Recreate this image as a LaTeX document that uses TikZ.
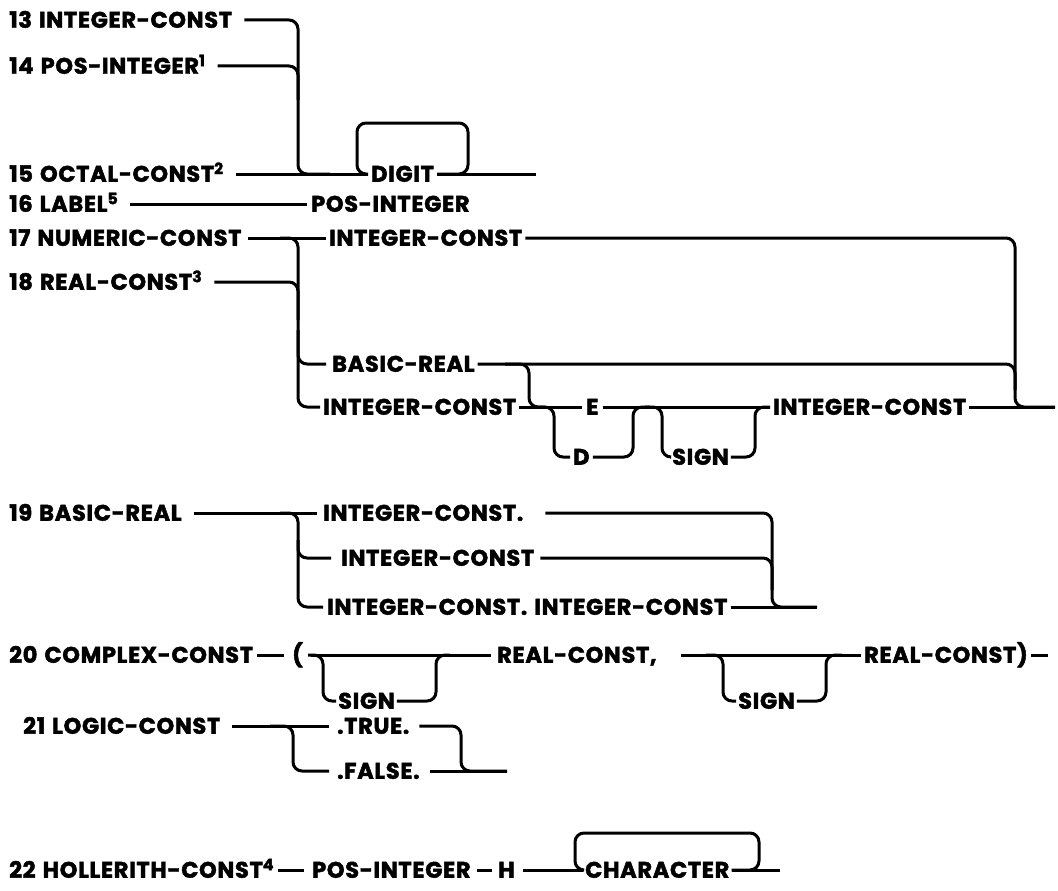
\documentclass[tikz,border=0pt]{standalone}
\usepackage{fontspec}
\setmainfont{Poppins}[LetterSpace=3, WordSpace=1.3, BoldFeatures={FakeBold=2}]
\usetikzlibrary{positioning}

\tikzset{
  lbl/.style={inner sep=0pt, anchor=west, text height=15.5pt, text depth=0pt,
    font=\fontsize{22.5}{26}\selectfont\bfseries},
  wire/.style={line width=3pt, rounded corners=9pt},
}

\begin{document}
\begin{tikzpicture}[x=1pt,y=-1pt]
    \useasboundingbox (0,0) rectangle (1058,891);
    % rules 13 to 15
    \node[lbl] (n13) at (9,20) {13 INTEGER-CONST};
    \node[lbl] (n14) at (9,66) {14 POS-INTEGER\textsuperscript{1}};
    \node[lbl] (n15) at (9,174) {15 OCTAL-CONST\textsuperscript{2}};
    \node[lbl] (digit) at (371,174) {DIGIT};
    \coordinate (e15) at (536,174);
    \draw[wire] ([xshift=12pt]n13.east) -| (298,174) -- (330,174);% bracket
    \draw[wire] ([xshift=12pt]n14.east) -| (298,100);
    \draw[wire] ([xshift=12pt]n15.east) -- ([xshift=-3pt]digit.west);
    \draw[wire] ([xshift=3pt]digit.east) -| (468,123) -| (357,174) -- ([xshift=-3pt]digit.west);% loop over DIGIT
    \draw[wire] ([xshift=3pt]digit.east) -- (e15);
    % rule 16
    \node[lbl] (n16) at (9,204) {16 LABEL\textsuperscript{5}};
    \node[lbl] (pos16) at (311,204) {POS-INTEGER};
    \draw[wire] ([xshift=12pt]n16.east) -- ([xshift=-4pt]pos16.west);
    % rules 17 and 18
    \node[lbl] (n17) at (9,238) {17 NUMERIC-CONST};
    \node[lbl] (ic17) at (329,238) {INTEGER-CONST};
    \node[lbl] (n18) at (9,282) {18 REAL-CONST\textsuperscript{3}};
    \node[lbl] (br17) at (332,364) {BASIC-REAL};
    \node[lbl] (icb17) at (323,407) {INTEGER-CONST};
    \node[lbl] (e17) at (586,407) {E};
    \node[lbl] (d17) at (573,457) {D};
    \node[lbl] (s17) at (672,457) {SIGN};
    \node[lbl] (ice17) at (773,407) {INTEGER-CONST};
    \coordinate (end17) at (1055,407);
    \draw[wire] ([xshift=6pt]n17.east) -- ([xshift=-3pt]ic17.west);
    \draw[wire] (280,238) -- (298,238) |- ([xshift=-3pt]icb17.west);% left bracket
    \draw[wire] ([xshift=12pt]n18.east) -| (298,320);
    \draw[wire] (298,330) |- ([xshift=-6pt]br17.west);
    \draw[wire] ([xshift=3pt]ic17.east) -| (1015,407) -- (end17);% right bracket
    \draw[wire] ([xshift=3pt]br17.east) -| (1015,390);
    \draw[wire] (505,364) -| (529,407) -- (545,407);
    \draw[wire] ([xshift=3pt]icb17.east) -- ([xshift=-4pt]e17.west);
    \draw[wire] (538,407) -| (554,457) -- ([xshift=-3pt]d17.west);
    \draw[wire] ([xshift=3pt]d17.east) -| (633,407) -- (650,407);
    \draw[wire] ([xshift=4pt]e17.east) -- ([xshift=-3pt]ice17.west);
    \draw[wire] (645,407) -| (662,457) -- ([xshift=-2pt]s17.west);% optional sign
    \draw[wire] ([xshift=2pt]s17.east) -| (755,407) -- ([xshift=-3pt]ice17.west);
    \draw[wire] ([xshift=3pt]ice17.east) -- (end17);
    % rule 19
    \node[lbl] (n19) at (9,513) {19 BASIC-REAL};
    \node[lbl] (ic19a) at (323,513) {INTEGER-CONST.};
    \node[lbl] (ic19b) at (341,558) {INTEGER-CONST};
    \node[lbl] (ic19c) at (327,607) {INTEGER-CONST. INTEGER-CONST};
    \coordinate (end19) at (817,607);
    \draw[wire] ([xshift=12pt]n19.east) -- ([xshift=-6pt]ic19a.west);
    \draw[wire] (280,513) -- (298,513) |- ([xshift=-4pt]ic19c.west);
    \draw[wire] (298,540) |- ([xshift=-10pt]ic19b.west);
    \draw[wire] ([xshift=22pt]ic19a.east) -| (772,607) -- (end19);
    \draw[wire] ([xshift=6pt]ic19b.east) -| (772,590);
    \draw[wire] ([xshift=3pt]ic19c.east) -- (end19);
    % rule 20
    \node[lbl] (n20) at (9,655) {20 COMPLEX-CONST};
    \node[lbl] (lp20) at (292,655) {(};
    \node[lbl] (s20a) at (338,701) {SIGN};
    \node[lbl] (rc20a) at (497,655) {REAL-CONST,};
    \node[lbl] (s20b) at (738,701) {SIGN};
    \node[lbl] (rc20b) at (864,655) {REAL-CONST)};
    \coordinate (end20) at (1048,655);
    \draw[wire] ([xshift=4pt]n20.east) -- ([xshift=-8pt]lp20.west);
    \draw[wire] ([xshift=8pt]lp20.east) -- ([xshift=-6pt]rc20a.west);
    \draw[wire] (308,655) -| (323,701) -- ([xshift=-2pt]s20a.west);
    \draw[wire] ([xshift=2pt]s20a.east) -| (436,655) -- (450,655);
    \draw[wire] ([xshift=24pt]rc20a.east) -- ([xshift=-3pt]rc20b.west);
    \draw[wire] (706,655) -| (723,701) -- ([xshift=-2pt]s20b.west);
    \draw[wire] ([xshift=2pt]s20b.east) -| (826,655) -- (842,655);
    \draw[wire] ([xshift=3pt]rc20b.east) -- (end20);
    % rule 21
    \node[lbl] (n21) at (23,726) {21 LOGIC-CONST};
    \node[lbl] (t21) at (337,726) {.TRUE.};
    \node[lbl] (f21) at (337,771) {.FALSE.};
    \coordinate (end21) at (507,771);
    \draw[wire] ([xshift=12pt]n21.east) -- ([xshift=-8pt]t21.west);
    \draw[wire] (270,726) -| (293,771) -- ([xshift=-8pt]f21.west);
    \draw[wire] ([xshift=10pt]t21.east) -| (461,771) -- (end21);
    \draw[wire] ([xshift=10pt]f21.east) -- (end21);
    % rule 22
    \node[lbl] (n22) at (9,870) {22 HOLLERITH-CONST\textsuperscript{4}};
    \node[lbl] (pos22) at (312,870) {POS-INTEGER};
    \node[lbl] (h22) at (498,870) {H};
    \node[lbl] (ch22) at (585,870) {CHARACTER};
    \coordinate (end22) at (780,870);
    \draw[wire] ([xshift=4pt]n22.east) -- ([xshift=-8pt]pos22.west);
    \draw[wire] ([xshift=6pt]pos22.east) -- ([xshift=-6pt]h22.west);
    \draw[wire] ([xshift=8pt]h22.east) -- ([xshift=-2pt]ch22.west);
    \draw[wire] ([xshift=2pt]ch22.east) -| (759,833) -| (575,870) -- ([xshift=-2pt]ch22.west);% loop over CHARACTER
    \draw[wire] ([xshift=2pt]ch22.east) -- (end22);
\end{tikzpicture}
\end{document}
